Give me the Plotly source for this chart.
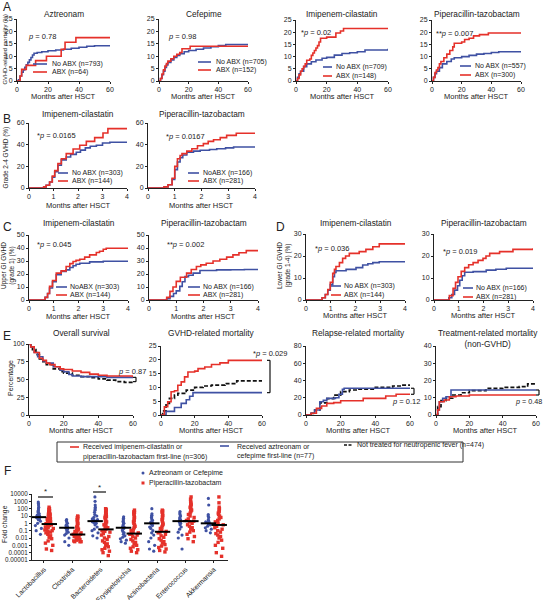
import plotly.graph_objects as go

W, H = 546, 600
BLUE = '#3f51a3'
RED = '#e5312a'
BLK = '#111111'
TXT = '#222222'
FONT = 'Liberation Sans, Arial, sans-serif'

# ================= DATA =================
# Panel A: GVHD-related mortality (%) vs months
a_azt_no_t = [0, 1, 2, 3, 4, 5, 6, 7, 8, 9, 10, 11, 13, 16, 20, 25, 30, 35, 40, 45, 50, 60]
a_azt_no_y = [0, 0.5, 2, 3.5, 4.5, 5.5, 6.5, 7.5, 8.5, 9.5, 10.5, 11.2, 11.5, 11.8, 12.2, 12.5, 12.8, 13.2, 13.6, 14, 14.2, 14.3]
a_azt_abx_t = [0, 2, 3, 6, 12, 19, 28.5, 31, 38, 60]
a_azt_abx_y = [0, 2, 4.7, 6.3, 8.2, 10, 12.8, 15.6, 17.5, 17.5]

a_cef_no_t = [0, 1, 2, 3, 4, 5, 6, 8, 10, 12, 14, 17, 20, 25, 30, 35, 40, 45, 60]
a_cef_no_y = [0, 1, 2.5, 4, 5.5, 6.5, 7.5, 8.5, 9.5, 10.3, 11, 11.8, 12.3, 12.8, 13.3, 13.8, 14.3, 14.7, 14.7]
a_cef_abx_t = [0, 1, 2, 3, 4, 5, 6, 8, 10, 12, 14, 15.5, 21, 60]
a_cef_abx_y = [0, 1, 2.8, 4.5, 6, 7, 8, 9, 10, 10.8, 11.5, 13, 14, 14]

a_imi_no_t = [0, 1, 2, 3, 5, 7, 10, 13, 17, 20, 25, 30, 35, 40, 45, 60]
a_imi_no_y = [0, 1.5, 3, 4, 5.9, 7, 7.9, 8.6, 9.3, 9.7, 10.6, 11.3, 11.6, 12, 12.7, 13.2]
a_imi_abx_t = [0, 1, 2, 3, 4, 5, 6, 7, 9, 10, 11, 12, 13, 14, 15, 16, 20, 26, 29, 31, 60]
a_imi_abx_y = [0, 1, 2.5, 4, 5, 6, 7, 8.5, 9, 10.5, 11.5, 12.5, 13.5, 14.5, 16, 17.5, 18, 19.7, 20.5, 21.5, 21.5]

a_pip_no_t = [0, 1, 2, 3, 5, 7, 10, 13, 15, 20, 25, 30, 35, 40, 45, 60]
a_pip_no_y = [0, 1.5, 3, 4, 5.5, 7, 8, 9, 9.5, 10, 10.5, 11, 11.3, 11.7, 12, 12]
a_pip_abx_t = [0, 1, 2, 3, 4, 5, 6, 8, 10, 12, 14, 15, 20, 22, 25, 28, 32, 38, 60]
a_pip_abx_y = [0, 1.5, 3.5, 4.5, 5.5, 7, 8, 9.5, 11, 12.5, 14, 15.5, 16, 17, 17.5, 18.5, 19, 19.7, 19.7]

# Panel B: grade 2-4 GVHD (%)
b_imi_no_t = [0, 0.5, 0.6, 0.7, 0.84, 0.95, 1.05, 1.18, 1.32, 1.52, 1.7, 1.93, 2.1, 2.3, 2.5, 2.75, 3.0, 3.3, 4]
b_imi_no_y = [0, 0, 1, 2.5, 5.5, 10, 15, 21, 26, 28.6, 31, 33, 35, 37, 38.5, 39.4, 41.5, 42.2, 42.2]
b_imi_abx_t = [0, 0.5, 0.6, 0.7, 0.84, 0.95, 1.05, 1.18, 1.32, 1.52, 1.8, 2.07, 2.34, 2.68, 3.02, 3.22, 4]
b_imi_abx_y = [0, 0, 1, 2.5, 5.5, 11, 16, 22.5, 27, 31.7, 36, 39.4, 43, 46.5, 50.8, 54.8, 55.5]

b_pip_no_t = [0, 0.5, 0.6, 0.75, 0.9, 1.0, 1.1, 1.2, 1.3, 1.45, 1.7, 1.95, 2.3, 2.57, 2.9, 3.2, 4]
b_pip_no_y = [0, 0, 1, 3, 8, 17, 24, 28, 30.5, 33, 34, 34.8, 35.5, 36.3, 37, 37.8, 38.5]
b_pip_abx_t = [0, 0.5, 0.6, 0.75, 0.9, 1.0, 1.1, 1.2, 1.27, 1.45, 1.64, 1.85, 2.07, 2.25, 2.45, 2.7, 2.94, 3.3, 4]
b_pip_abx_y = [0, 0, 1, 3, 9, 20, 27, 30, 31.7, 34, 36.3, 39, 41, 43, 44.6, 46.5, 48.6, 50.6, 51]

# Panel C: upper GI GVHD (grade 1) (%)
c_imi_no_t = [0, 0.54, 0.65, 0.75, 0.83, 0.95, 1.1, 1.3, 1.5, 1.65, 1.78, 1.9, 2.05, 2.45, 3.0, 4]
c_imi_no_y = [0, 0, 2, 5, 9.2, 14, 19.4, 22, 23.2, 25, 26.3, 27.5, 28.3, 29.3, 29.8, 29.8]
c_imi_abx_t = [0, 0.54, 0.65, 0.75, 0.83, 0.95, 1.1, 1.3, 1.5, 1.65, 1.78, 1.9, 2.05, 2.25, 2.45, 2.72, 2.85, 3.0, 3.12, 4]
c_imi_abx_y = [0, 0, 2, 5, 10.5, 15, 20.7, 22.4, 25.8, 28, 29.6, 30.5, 31.4, 33, 34.7, 36.5, 37.5, 39, 39.8, 39.8]

c_pip_no_t = [0, 0.55, 0.65, 0.77, 0.9, 1.0, 1.13, 1.22, 1.32, 1.45, 1.62, 1.87, 2.48, 3.0, 3.5, 4]
c_pip_no_y = [0, 0, 1, 2.8, 5, 7, 10.5, 14, 18, 19, 20.7, 22.7, 23.2, 23.3, 23.5, 23.5]
c_pip_abx_t = [0, 0.55, 0.65, 0.77, 0.88, 1.0, 1.15, 1.38, 1.55, 1.74, 1.9, 2.1, 2.35, 2.6, 2.85, 3.08, 3.3, 3.57, 4]
c_pip_abx_y = [0, 0, 2, 6.6, 10, 14.3, 17.5, 20.7, 23.5, 25.8, 27, 28.3, 30, 31.4, 33, 34.7, 36.3, 38, 38]

# Panel D: lower GI GVHD (grade 1-4) (%)
d_imi_no_t = [0, 0.54, 0.65, 0.78, 0.88, 0.98, 1.08, 1.15, 1.21, 1.62, 2.02, 2.29, 2.5, 2.7, 2.96, 4]
d_imi_no_y = [0, 0, 1, 2.5, 4.5, 7, 10.6, 12.5, 13.3, 13.9, 14.7, 15.9, 16.5, 17, 17.4, 17.5]
d_imi_abx_t = [0, 0.54, 0.65, 0.78, 0.88, 0.98, 1.08, 1.15, 1.21, 1.35, 1.48, 1.6, 1.75, 2.15, 2.42, 2.7, 2.96, 4]
d_imi_abx_y = [0, 0, 1, 2.5, 4.8, 8, 12.1, 14, 15.2, 17, 18.9, 20, 21.2, 22, 23, 24.2, 25.5, 25.5]

d_pip_no_t = [0, 0.47, 0.6, 0.72, 0.83, 0.95, 1.04, 1.14, 1.24, 1.58, 2.11, 2.5, 2.92, 4]
d_pip_no_y = [0, 0, 1, 2.5, 4.5, 6.5, 9, 11, 12.6, 12.9, 13.6, 14, 14.4, 14.5]
d_pip_abx_t = [0, 0.5, 0.62, 0.77, 0.87, 0.97, 1.1, 1.24, 1.4, 1.58, 1.78, 1.98, 2.1, 2.25, 2.65, 3.19, 4]
d_pip_abx_y = [0, 0, 2, 5.3, 8, 10.6, 13, 14.7, 16, 17, 18, 18.9, 20, 21.2, 22, 23, 23.5]

# Panel E: outcomes by first-line antibiotic
e_os_red_t = [0, 1, 3, 6, 8, 10, 12, 15, 18, 20, 25, 30, 35, 40, 45, 60]
e_os_red_y = [100, 96, 88, 80, 77, 73, 71, 68, 65, 64, 62, 60, 57.5, 56, 55, 53]
e_os_blue_t = [0, 1, 3, 5, 8, 10, 14, 18, 20, 23, 25, 30, 45, 60]
e_os_blue_y = [100, 96, 88, 82, 76, 73, 68, 63, 61, 57, 55, 54, 53, 52]
e_os_none_t = [0, 1, 2, 4, 6, 8, 10, 14, 18, 20, 25, 30, 35, 40, 45, 50, 55, 60]
e_os_none_y = [100, 96, 92, 85, 79, 75, 71, 65, 61, 59, 56, 54, 52.5, 51, 49, 47, 46, 44.5]

e_gvhd_red_t = [0, 2, 4, 6, 8, 10, 12, 14, 16, 20, 22, 26, 30, 35, 40, 60]
e_gvhd_red_y = [0, 3, 4.8, 8.4, 8.8, 10.8, 12, 13.8, 15.6, 15.9, 16.8, 17.4, 18.3, 18.9, 19.8, 19.8]
e_gvhd_blue_t = [0, 3, 8, 12, 15, 17, 19, 60]
e_gvhd_blue_y = [0, 1.3, 2.7, 4.2, 5.5, 6.8, 8.1, 8.1]
e_gvhd_none_t = [0, 1, 3, 5, 8, 10, 15, 20, 25, 30, 38, 45, 60]
e_gvhd_none_y = [0, 1.5, 4.2, 6, 7.2, 7.8, 9, 10, 10.5, 10.8, 11.4, 12.4, 12.4]

e_rel_red_t = [0, 3, 6, 9, 12, 16, 20, 33, 46, 52, 60]
e_rel_red_y = [0, 2, 7.7, 10.4, 13.5, 14.3, 16.6, 19.3, 22, 24, 24]
e_rel_blue_t = [0, 3, 5, 8, 10, 12, 17, 19, 21, 22, 60]
e_rel_blue_y = [0, 2, 5.8, 15.4, 17, 19.3, 20, 24, 29.7, 31, 31]
e_rel_none_t = [0, 3, 5, 8, 12, 16, 20, 25, 30, 40, 50, 55, 60]
e_rel_none_y = [0, 2, 5.8, 14, 19, 23, 27, 29, 30, 32, 33.6, 34.7, 34.7]

e_trm_red_t = [0, 1, 2, 5, 8, 12, 20, 60]
e_trm_red_y = [0, 3, 7.7, 8.7, 10.6, 11, 11.6, 11.6]
e_trm_blue_t = [0, 1, 2, 4, 6, 9, 60]
e_trm_blue_y = [0, 3, 7.7, 9.7, 10.6, 14.5, 14.5]
e_trm_none_t = [0, 1, 3, 6, 10, 15, 20, 30, 40, 50, 55, 60]
e_trm_none_y = [0, 4.8, 8.3, 9.7, 11.6, 12.9, 14.1, 15.4, 16, 16.4, 18, 18]

# Panel F: fold change (log10 values)
f_categories = ['Lactobacillus', 'Clostridia', 'Bacteroidetes', 'Erysipelotrichia',
                'Actinobacteria', 'Enterococcus', 'Akkermansia']
f_azt_log10 = [
    [2.9, 2.7, 2.5, 2.2, 2.0, 1.8, 1.6, 1.5, 1.3, 1.2, 1.1, 1.0, 0.9, 0.85, 0.8, 0.7, 0.6, 0.5, 0.3, 0.0, -0.3, -0.7, -1.0, -1.5],
    [0.5, 0.4, 0.2, 0.0, -0.2, -0.3, -0.4, -0.5, -0.6, -0.6, -0.7, -0.8, -1.0, -1.2, -1.4, -1.6, -2.0, -2.5, -3.0],
    [3.6, 3.0, 2.5, 2.2, 2.0, 1.8, 1.5, 1.2, 1.0, 0.8, 0.6, 0.5, 0.4, 0.3, 0.2, 0.1, 0.0, -0.2, -0.5, -0.8, -1.0, -1.3, -1.7, -2.0],
    [0.9, 0.7, 0.5, 0.3, 0.1, 0.0, -0.2, -0.4, -0.5, -0.6, -0.7, -0.9, -1.1, -1.3, -1.5, -1.7, -1.9, -2.1, -2.3, -2.5, -2.7],
    [2.0, 1.3, 1.1, 1.0, 0.8, 0.6, 0.4, 0.2, 0.1, 0.0, -0.1, -0.3, -0.5, -0.7, -1.0, -1.3, -1.6, -2.0, -2.5, -3.0, -3.5, -3.8],
    [1.6, 1.4, 1.2, 1.0, 0.8, 0.6, 0.5, 0.4, 0.3, 0.2, 0.1, 0.0, -0.2, -0.5, -0.8, -1.2, -1.6, -2.0, -3.5],
    [3.4, 2.5, 1.2, 1.0, 0.8, 0.5, 0.3, 0.2, 0.1, 0.0, -0.1, -0.2, -0.4, -0.6, -0.8, -1.0, -1.3],
]
f_pip_log10 = [
    [2.2, 2.0, 1.9, 1.8, 1.7, 1.6, 1.5, 1.45, 1.4, 1.3, 1.25, 1.2, 1.1, 1.0, 0.95, 0.9, 0.8, 0.7, 0.65, 0.6, 0.5, 0.4, 0.3, 0.2, 0.1, 0.0, -0.05, -0.1, -0.15, -0.2, -0.3, -0.4, -0.5, -0.6, -0.7, -0.8, -0.9, -1.0, -1.1, -1.2, -1.3, -1.5, -1.7, -1.9, -2.1, -2.4, -2.7, -3.0, -3.5, -3.7],
    [1.0, 0.9, 0.8, 0.6, 0.5, 0.3, 0.1, 0.0, -0.2, -0.3, -0.5, -0.6, -0.7, -0.8, -0.9, -1.0, -1.1, -1.2, -1.3, -1.4, -1.5, -1.5, -1.6, -1.7, -1.8, -1.9, -2.0, -2.1, -2.2, -2.3, -2.4, -2.5, -2.5, -2.5],
    [2.0, 1.9, 1.8, 1.7, 1.5, 1.4, 1.3, 1.2, 1.0, 0.9, 0.8, 0.6, 0.4, 0.2, 0.1, 0.0, -0.2, -0.4, -0.5, -0.6, -0.8, -0.9, -1.0, -1.1, -1.2, -1.4, -1.6, -1.8, -2.0, -2.2, -2.4, -2.6, -2.8, -3.0, -3.2, -3.4, -3.6, -3.8, -4.0, -4.4],
    [1.8, 1.6, 1.5, 1.4, 1.2, 1.0, 0.8, 0.6, 0.4, 0.2, 0.0, -0.2, -0.4, -0.6, -0.8, -1.0, -1.2, -1.3, -1.4, -1.5, -1.6, -1.8, -2.0, -2.2, -2.4, -2.6, -2.8, -3.0, -3.2, -3.4, -3.6, -3.8, -4.0],
    [1.8, 1.7, 1.6, 1.5, 1.3, 1.1, 0.9, 0.7, 0.5, 0.3, 0.1, -0.1, -0.3, -0.5, -0.7, -0.9, -1.1, -1.2, -1.3, -1.5, -1.7, -1.9, -2.1, -2.3, -2.5, -2.7, -2.9, -3.1, -3.3, -3.5, -3.7, -3.9],
    [3.6, 3.3, 3.0, 2.8, 2.6, 2.5, 2.4, 2.2, 2.0, 1.9, 1.8, 1.6, 1.4, 1.2, 1.0, 0.8, 0.6, 0.4, 0.3, 0.2, 0.0, -0.2, -0.4, -0.6, -0.8, -1.0, -1.2, -1.5, -1.8, -2.1, -2.5],
    [3.6, 2.8, 2.2, 2.0, 1.8, 1.6, 1.4, 1.2, 1.0, 0.8, 0.6, 0.4, 0.2, 0.0, -0.2, -0.4, -0.6, -0.8, -1.0, -1.2, -1.4, -1.6, -1.8, -2.0, -2.3, -2.6, -3.0, -3.4, -4.0, -4.5],
]
f_azt_median = [7, 0.25, 2, 0.25, 1, 2, 1]
f_pip_median = [0.8, 0.03, 0.15, 0.04, 0.07, 2, 0.6]
f_ytick_vals = [1e4, 1e3, 1e2, 1e1, 1, 0.1, 0.01, 0.001, 0.0001, 0.00001]
f_ytick_text = ['10000', '1000', '100', '10', '1', '0.1', '0.01', '0.001', '0.0001', '0.00001']

# ================= LAYOUT GEOMETRY (pixels) =================
geom = {
    'A1': (17, 110, 19, 81, [0, 60], [0, 25], [0, 20, 40, 60], [0, 5, 10, 15, 20, 25]),
    'A2': (159, 248, 19, 81, [0, 60], [0, 25], [0, 20, 40, 60], [0, 5, 10, 15, 20, 25]),
    'A3': (296, 388, 20, 81, [0, 60], [0, 25], [0, 20, 40, 60], [0, 5, 10, 15, 20, 25]),
    'A4': (432, 521, 20, 81, [0, 60], [0, 25], [0, 20, 40, 60], [0, 5, 10, 15, 20, 25]),
    'B1': (29, 127, 123, 188, [0, 4], [0, 60], [0, 1, 2, 3, 4], [0, 20, 40, 60]),
    'B2': (148, 255, 123, 188, [0, 4], [0, 60], [0, 1, 2, 3, 4], [0, 20, 40, 60]),
    'C1': (29, 128, 235, 300, [0, 4], [0, 50], [0, 1, 2, 3, 4], [0, 10, 20, 30, 40, 50]),
    'C2': (149, 258, 235, 300, [0, 4], [0, 50], [0, 1, 2, 3, 4], [0, 10, 20, 30, 40, 50]),
    'D1': (306, 405, 234, 300, [0, 4], [0, 30], [0, 1, 2, 3, 4], [0, 10, 20, 30]),
    'D2': (434, 533, 234, 300, [0, 4], [0, 30], [0, 1, 2, 3, 4], [0, 10, 20, 30]),
    'E1': (29, 133, 344, 415, [0, 60], [0, 100], [0, 20, 40, 60], [0, 25, 50, 75, 100]),
    'E2': (161, 262, 346, 415, [0, 60], [0, 25], [0, 20, 40, 60], [0, 5, 10, 15, 20, 25]),
    'E3': (306, 410, 346, 415, [0, 60], [0, 80], [0, 20, 40, 60], [0, 20, 40, 60, 80]),
    'E4': (436, 536, 346, 415, [0, 60], [0, 40], [0, 20, 40, 60], [0, 10, 20, 30, 40]),
}
order = list(geom.keys()) + ['F']
axis_idx = {name: i + 1 for i, name in enumerate(order)}


def ref(name):
    i = axis_idx[name]
    return ('x' if i == 1 else f'x{i}'), ('y' if i == 1 else f'y{i}')


def d2px(name, xv, yv):
    x0, x1, yt, yb, xr, yr, _, _ = geom[name]
    px = x0 + (xv - xr[0]) / (xr[1] - xr[0]) * (x1 - x0)
    py = yb - (yv - yr[0]) / (yr[1] - yr[0]) * (yb - yt)
    return px, py


fig = go.Figure()
layout = {}
anns = []
shapes = []


def txt(x, y, s, size=7, xa='left', ya='middle', angle=0, color=TXT):
    anns.append(dict(x=x / W, y=1 - y / H, xref='paper', yref='paper', text=s, showarrow=False,
                     xanchor=xa, yanchor=ya, textangle=angle, borderpad=0,
                     font=dict(size=size, family=FONT, color=color)))


def seg(x0, y0, x1, y1, color, width=1.5, dash=None):
    shapes.append(dict(type='line', xref='paper', yref='paper', x0=x0 / W, x1=x1 / W,
                       y0=1 - y0 / H, y1=1 - y1 / H, line=dict(color=color, width=width, dash=dash)))


def axis_common():
    return dict(ticks='outside', ticklen=2, tickwidth=1, tickcolor=TXT, showline=True, linecolor=TXT,
                linewidth=1, showgrid=False, zeroline=False, automargin=False, fixedrange=True,
                tickfont=dict(size=7, family=FONT, color=TXT))


for name, (x0, x1, yt, yb, xr, yr, xt, yt_) in geom.items():
    xa, ya = ref(name)
    i = axis_idx[name]
    xk = 'xaxis' if i == 1 else f'xaxis{i}'
    yk = 'yaxis' if i == 1 else f'yaxis{i}'
    layout[xk] = dict(domain=[x0 / W, x1 / W], anchor=ya, range=xr, tickvals=xt, **axis_common())
    layout[yk] = dict(domain=[1 - yb / H, 1 - yt / H], anchor=xa, range=yr, tickvals=yt_, **axis_common())

curves = {
    'A1': [(a_azt_no_t, a_azt_no_y, BLUE, None), (a_azt_abx_t, a_azt_abx_y, RED, None)],
    'A2': [(a_cef_no_t, a_cef_no_y, BLUE, None), (a_cef_abx_t, a_cef_abx_y, RED, None)],
    'A3': [(a_imi_no_t, a_imi_no_y, BLUE, None), (a_imi_abx_t, a_imi_abx_y, RED, None)],
    'A4': [(a_pip_no_t, a_pip_no_y, BLUE, None), (a_pip_abx_t, a_pip_abx_y, RED, None)],
    'B1': [(b_imi_no_t, b_imi_no_y, BLUE, None), (b_imi_abx_t, b_imi_abx_y, RED, None)],
    'B2': [(b_pip_no_t, b_pip_no_y, BLUE, None), (b_pip_abx_t, b_pip_abx_y, RED, None)],
    'C1': [(c_imi_no_t, c_imi_no_y, BLUE, None), (c_imi_abx_t, c_imi_abx_y, RED, None)],
    'C2': [(c_pip_no_t, c_pip_no_y, BLUE, None), (c_pip_abx_t, c_pip_abx_y, RED, None)],
    'D1': [(d_imi_no_t, d_imi_no_y, BLUE, None), (d_imi_abx_t, d_imi_abx_y, RED, None)],
    'D2': [(d_pip_no_t, d_pip_no_y, BLUE, None), (d_pip_abx_t, d_pip_abx_y, RED, None)],
    'E1': [(e_os_none_t, e_os_none_y, BLK, 'dash'), (e_os_blue_t, e_os_blue_y, BLUE, None), (e_os_red_t, e_os_red_y, RED, None)],
    'E2': [(e_gvhd_none_t, e_gvhd_none_y, BLK, 'dash'), (e_gvhd_blue_t, e_gvhd_blue_y, BLUE, None), (e_gvhd_red_t, e_gvhd_red_y, RED, None)],
    'E3': [(e_rel_none_t, e_rel_none_y, BLK, 'dash'), (e_rel_blue_t, e_rel_blue_y, BLUE, None), (e_rel_red_t, e_rel_red_y, RED, None)],
    'E4': [(e_trm_none_t, e_trm_none_y, BLK, 'dash'), (e_trm_blue_t, e_trm_blue_y, BLUE, None), (e_trm_red_t, e_trm_red_y, RED, None)],
}
for name, lst in curves.items():
    xa, ya = ref(name)
    for t, y, c, d in lst:
        fig.add_trace(go.Scatter(x=t, y=y, mode='lines', xaxis=xa, yaxis=ya, cliponaxis=False,
                                 hoverinfo='skip', showlegend=False,
                                 line=dict(shape='hv', color=c, width=1.6 if d is None else 1.7,
                                           dash='4px,2px' if d else None)))

# ---- titles / axis labels ----
titles = {
    'A1': 'Aztreonam', 'A2': 'Cefepime', 'A3': 'Imipenem-cilastatin', 'A4': 'Piperacillin-tazobactam',
    'B1': 'Imipenem-cilastatin', 'B2': 'Piperacillin-tazobactam',
    'C1': 'Imipenem-cilastatin', 'C2': 'Piperacillin-tazobactam',
    'D1': 'Imipenem-cilastatin', 'D2': 'Piperacillin-tazobactam',
    'E1': 'Overall survival', 'E2': 'GVHD-related mortality', 'E3': 'Relapse-related mortality',
    'E4': 'Treatment-related mortality<br>(non-GVHD)',
}
title_y = {'A': 14, 'B': 114, 'C': 223, 'D': 223, 'E': 333}
month_y = {'A': 96.5, 'B': 205.5, 'C': 316.5, 'D': 316, 'E': 430.5}
for name, t in titles.items():
    x0, x1 = geom[name][0], geom[name][1]
    ty = title_y[name[0]]
    cx = (x0 + x1) / 2
    if name == 'E4':
        ty = 339
        cx = 488
    txt(cx, ty, t, size=8.3, xa='center')
    txt((x0 + x1) / 2, month_y[name[0]], 'Months after HSCT', size=7.5, xa='center')

txt(4.5, 49, 'GVHD-related mortality (%)', size=5.8, xa='center', angle=-90)
txt(5.5, 158, 'Grade 2-4 GVHD (%)', size=6.5, xa='center', angle=-90)
txt(8, 266, 'Upper GI GVHD<br>(grade 1) (%)', size=6.5, xa='center', angle=-90)
txt(284, 266, 'Lower GI GVHD<br>(grade 1-4) (%)', size=6.5, xa='center', angle=-90)
txt(11, 378, 'Percentage', size=7, xa='center', angle=-90)
txt(5, 524, 'Fold change', size=6.8, xa='center', angle=-90)

for L, (x, y) in {'A': (2, 7), 'B': (2, 119), 'C': (2, 227), 'D': (275, 227), 'E': (2, 336), 'F': (3, 471)}.items():
    txt(x, y, L, size=12)

# ---- p values ----
pvals = [
    (27, 37, '<i>p</i> = 0.78'), (167, 37, '<i>p</i> = 0.98'), (300, 32, '*<i>p</i> = 0.02'),
    (435, 33, '**<i>p</i> = 0.007'), (36, 135, '*<i>p</i> = 0.0165'), (165, 136, '*<i>p</i> = 0.0167'),
    (36, 244, '*<i>p</i> = 0.045'), (166, 244, '**<i>p</i> = 0.002'), (314, 248, '*<i>p</i> = 0.036'),
    (442, 252, '*<i>p</i> = 0.019'), (117, 371, '<i>p</i> = 0.87'), (252, 353, '*<i>p</i> = 0.029'),
    (391, 401, '<i>p</i> = 0.12'),
]
for x, y, s in pvals:
    txt(x, y, s, size=7.5, xa='left')
txt(543, 401, '<i>p</i> = 0.48', size=7.2, xa='right')

# ---- KM legends ----
km_leg = {
    'A1': (33, 47, 51, 64, 72, 'No ABX (n=793)', 'ABX (n=64)'),
    'A2': (198, 211, 215, 62, 70, 'No ABX (n=705)', 'ABX (n=152)'),
    'A3': (323, 332, 335, 67, 76, 'No ABX (n=709)', 'ABX (n=148)'),
    'A4': (460, 471, 474, 66, 75, 'No ABX (n=557)', 'ABX (n=300)'),
    'B1': (58, 68, 71, 173, 181, 'No ABX (n=303)', 'ABX (n=144)'),
    'B2': (188, 199, 202, 173, 181, 'NoABX (n=166)', 'ABX (n=281)'),
    'C1': (56, 67, 69, 287, 295, 'NoABX (n=303)', 'ABX (n=144)'),
    'C2': (188, 200, 202, 287, 295, 'No ABX (n=166)', 'ABX (n=281)'),
    'D1': (331, 341, 343, 286, 295, 'No ABX (n=303)', 'ABX (n=144)'),
    'D2': (463, 473, 475, 288, 297, 'No ABX (n=166)', 'ABX (n=281)'),
}
for name, (lx0, lx1, tx, y1, y2, s1, s2) in km_leg.items():
    seg(lx0, y1, lx1, y1, BLUE, 1.6)
    seg(lx0, y2, lx1, y2, RED, 1.6)
    txt(tx, y1, s1, size=7)
    txt(tx, y2, s2, size=7)


# ---- E brackets ----
def bracket(name, xpx, v_top, v_bot, w=3):
    _, yt = d2px(name, 0, v_top)
    _, yb = d2px(name, 0, v_bot)
    seg(xpx - w, yt, xpx, yt, BLK, 1.2)
    seg(xpx, yt, xpx, yb, BLK, 1.2)
    seg(xpx - w, yb, xpx, yb, BLK, 1.2)


bracket('E1', 136, 53, 47)
bracket('E2', 270, 19.8, 8.1)
bracket('E3', 414, 31, 24)
bracket('E4', 539, 14.5, 11.6)

# ---- E legend box ----
shapes.append(dict(type='rect', xref='paper', yref='paper', x0=57 / W, x1=463 / W, y0=1 - 462 / H, y1=1 - 442 / H,
                   line=dict(color='#333', width=1)))
seg(70, 447, 79, 447, RED, 1.6)
txt(82, 447, 'Received imipenem-cilastatin or', size=7)
txt(82, 456.5, 'piperacillin-tazobactam first-line (n=306)', size=7)
seg(220, 446, 229, 446, BLUE, 1.6)
txt(236, 446, 'Received aztreonam or', size=7)
txt(236, 455.5, 'cefepime first-line (n=77)', size=7)
seg(344, 445, 353, 445, BLK, 1.4, '3px,1.5px')
txt(356, 445, 'Not treated for neutropenic fever (n=474)', size=7)

# ---- Panel F ----
fx0, fx1, fyt, fyb = 32, 228, 494, 560
i = axis_idx['F']
fxa, fya = f'x{i}', f'y{i}'
layout[f'xaxis{i}'] = dict(domain=[fx0 / W, fx1 / W], anchor=fya, range=[-0.42, 6.5],
                           tickvals=list(range(len(f_categories))), ticktext=f_categories, tickangle=-45,
                           **axis_common())
layout[f'xaxis{i}']['tickfont'] = dict(size=6.8, family=FONT, color=TXT)
layout[f'yaxis{i}'] = dict(domain=[1 - fyb / H, 1 - fyt / H], anchor=fxa, type='log', range=[-5, 4],
                           tickvals=f_ytick_vals, ticktext=f_ytick_text, **axis_common())
layout[f'yaxis{i}']['tickfont'] = dict(size=6.3, family=FONT, color=TXT)

OFF = 0.19
for k, cat in enumerate(f_categories):
    fig.add_trace(go.Box(x0=k - OFF, y=[10 ** v for v in f_azt_log10[k]], boxpoints='all', jitter=1, pointpos=0,
                         width=0.26, fillcolor='rgba(0,0,0,0)', line=dict(width=0, color='rgba(0,0,0,0)'),
                         marker=dict(color=BLUE, size=3.2, symbol='circle'), xaxis=fxa, yaxis=fya,
                         showlegend=False, hoverinfo='skip'))
    fig.add_trace(go.Box(x0=k + OFF, y=[10 ** v for v in f_pip_log10[k]], boxpoints='all', jitter=1, pointpos=0,
                         width=0.32, fillcolor='rgba(0,0,0,0)', line=dict(width=0, color='rgba(0,0,0,0)'),
                         marker=dict(color=RED, size=3.4, symbol='square'), xaxis=fxa, yaxis=fya,
                         showlegend=False, hoverinfo='skip'))
fig.add_trace(go.Scatter(x=[k - OFF for k in range(len(f_categories))] + [k + OFF for k in range(len(f_categories))],
                         y=f_azt_median + f_pip_median, mode='markers', xaxis=fxa, yaxis=fya, showlegend=False,
                         hoverinfo='skip', cliponaxis=False,
                         marker=dict(symbol='line-ew', size=11, line=dict(color='black', width=2))))

# significance bars
seg(38, 497, 53, 497, BLK, 1.2)
txt(45.5, 492, '*', size=8, xa='center')
seg(93, 492, 106, 492, BLK, 1.2)
txt(99.5, 487, '*', size=8, xa='center')

# F legend
shapes.append(dict(type='circle', xref='paper', yref='paper', x0=141.5 / W, x1=144.5 / W,
                   y0=1 - 474.5 / H, y1=1 - 471.5 / H, fillcolor=BLUE, line=dict(width=0)))
shapes.append(dict(type='rect', xref='paper', yref='paper', x0=141.5 / W, x1=144.5 / W,
                   y0=1 - 484.5 / H, y1=1 - 481.5 / H, fillcolor=RED, line=dict(width=0)))
txt(148, 473, 'Aztreonam or Cefepime', size=7)
txt(148, 483, 'Piperacillin-tazobactam', size=7)

fig.update_layout(**layout)
fig.update_layout(template='none', width=W, height=H, margin=dict(l=0, r=0, t=0, b=0),
                  paper_bgcolor='white', plot_bgcolor='rgba(0,0,0,0)', showlegend=False,
                  annotations=anns, shapes=shapes, boxmode='overlay',
                  font=dict(family=FONT, color=TXT))
fig.write_html('out.html', config={'displayModeBar': False, 'staticPlot': True},
               post_script="document.body.style.margin='0px';document.body.style.padding='0px';"
                           "document.body.style.overflow='hidden';")
